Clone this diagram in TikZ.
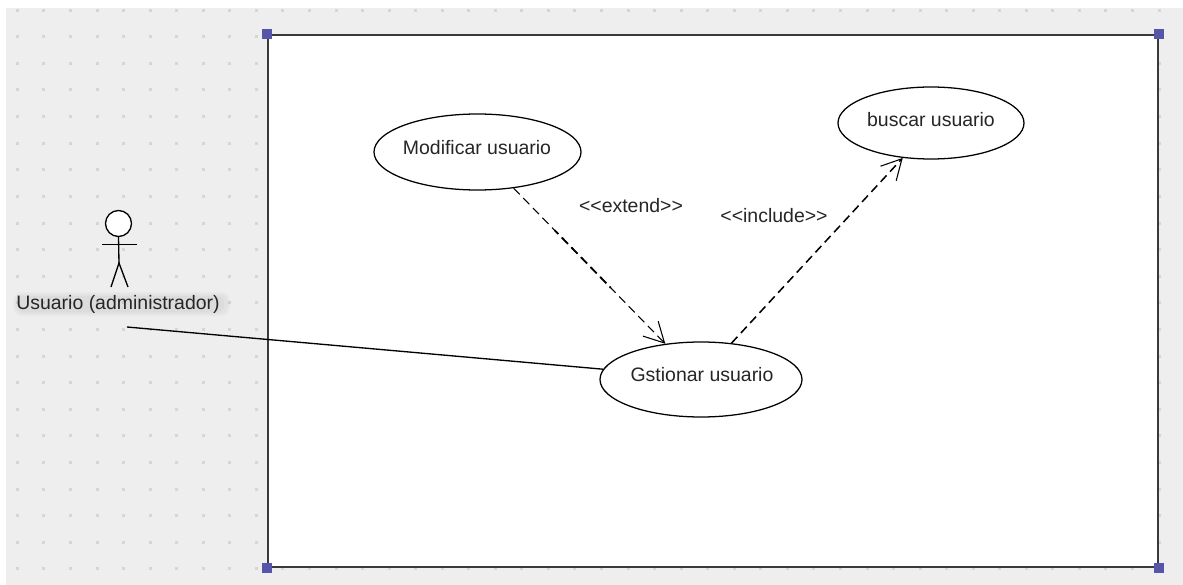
\documentclass[tikz,border=0pt]{standalone}
\usepackage{fontspec}
\setmainfont{Liberation Sans}
\usetikzlibrary{shapes.geometric,arrows.meta,calc}
\definecolor{canvasbg}{HTML}{EEEEEE}
\definecolor{griddot}{HTML}{D6D6D6}
\definecolor{handleblue}{HTML}{5555AA}
\definecolor{inkline}{HTML}{3A3A3A}
\tikzset{
  usecase/.style={ellipse,draw=black,fill=white,line width=0.95pt,inner sep=0pt},
  uclabel/.style={font=\fontsize{14.6}{16}\selectfont,text=black!85,inner sep=0pt},
  depdash/.style={draw=black,dash pattern=on 6.5pt off 3.8pt},
  depline/.style={depdash,line width=0.8pt,-{Straight Barb[length=15pt,width=16pt,line width=0.8pt]}},
  assoc/.style={draw=black,line width=1pt},
  actorline/.style={draw=black,line width=1pt},
  handle/.style={rectangle,fill=handleblue,draw=none,minimum size=7.5pt,inner sep=0pt},
  halo/.style={black,opacity=0.025}
}
\begin{document}
\begin{tikzpicture}[x=0.75pt,y=-0.75pt]
\useasboundingbox (0,0) rectangle (1183,585);
\fill[white] (0,0) rectangle (1183,585);
\fill[canvasbg] (6,8.5) rectangle (1183,585);
\foreach \i in {0,...,43}{\foreach \j in {0,...,21}{
  \fill[griddot] ({17.4+26.55*\i-1.5},{10.2+26.6*\j-1.5}) rectangle +(3,3);
}}
\fill[halo,rounded corners=7pt] (13,292) rectangle (230,316);
\fill[halo,rounded corners=6pt] (15,294) rectangle (228,314);
\fill[halo,rounded corners=5pt] (17,296) rectangle (224,312);
\node[rectangle,draw=inkline,fill=white,line width=1.5pt,minimum width=667.5pt,minimum height=399pt,inner sep=0pt] (frame) at (713,301) {};
\node[handle] (h1) at (frame.north west) {};
\node[handle] (h2) at (frame.north east) {};
\node[handle] (h3) at (frame.south west) {};
\node[handle] (h4) at (frame.south east) {};
\node[usecase,minimum width=155.25pt,minimum height=57pt] (mod) at (477.5,152) {};
\node[uclabel] (modl) at (477,148) {Modificar usuario};
\node[usecase,minimum width=139.5pt,minimum height=54pt] (bus) at (931,123) {};
\node[uclabel] (busl) at (931,120) {buscar usuario};
\node[usecase,minimum width=151.5pt,minimum height=56.25pt] (gst) at (701,379.5) {};
\node[uclabel] (gstl) at (702,375) {Gstionar usuario};
\node[uclabel] (ext) at (631,205.5) {<{}<extend>{}>};
\node[uclabel] (inc) at (774,216) {<{}<include>{}>};
\draw[depline] (mod.-45) -- (gst.135);
\draw[depdash,line width=1.4pt,dash phase=43.7pt] ($(mod.-45)!0.27!(gst.135)$) -- ($(mod.-45)!0.64!(gst.135)$);
\draw[depline,line width=1.15pt] (gst.50) -- (bus.231);
\node[circle,draw=black,fill=white,line width=1pt,minimum size=19.5pt,inner sep=0pt] (head) at (118.5,223.5) {};
\coordinate (armL) at (102,244.7);
\coordinate (armR) at (137,244.7);
\coordinate (hip) at (119,263);
\coordinate (legL) at (111,287);
\coordinate (legR) at (128,287);
\draw[actorline] (head.south) -- (hip);
\draw[actorline] (armL) -- (armR);
\draw[actorline] (legL) -- (hip) -- (legR);
\node[uclabel] (actor) at (118,304) {Usuario (administrador)};
\coordinate (assocstart) at (127,327);
\draw[assoc] (assocstart) -- (gst.174.5);
\end{tikzpicture}
\end{document}
